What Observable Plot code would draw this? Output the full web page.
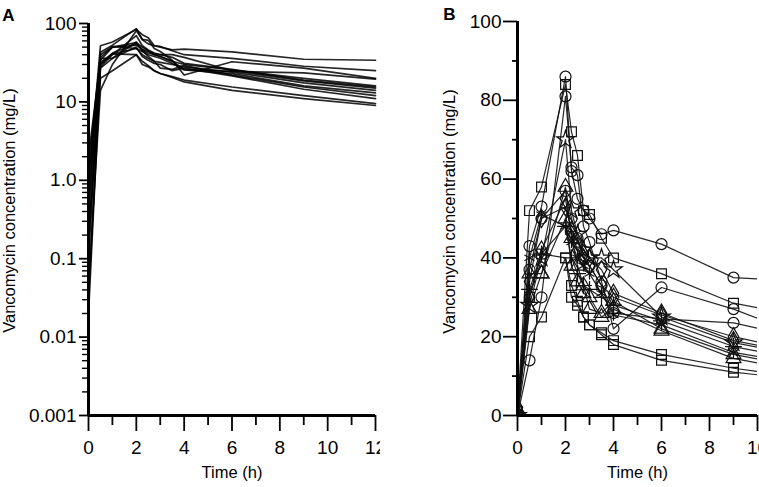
<!DOCTYPE html>
<html><head><meta charset="utf-8">
<script src="https://cdn.jsdelivr.net/npm/d3@7"></script>
<script src="https://cdn.jsdelivr.net/npm/@observablehq/plot@0.6"></script>
<style>
body{margin:0;background:#fff;}
#wrap{display:flex;width:759px;height:487px;overflow:hidden;}
#wrap svg{display:block;flex:none;}
</style></head><body><div id="wrap"></div>
<script>
// Sampling times (h)
const times = [0, 0.5, 1, 2, 2.25, 2.5, 2.75, 3, 3.5, 4, 6, 9, 12];
// Concentrations (mg/L) per subject
const s1  = [0.3, 43, 53, 86, 62, 55, 52, 50, 46, 47, 43.5, 35, 34];
const s2  = [1, 52, 58, 84, 72, 66, 52, 51, 45, 40, 36, 28.5, 25];
const s3  = [0.05, 14, 30, 81, 63, 61, 48, 44, 34, 22, 32.5, 27, 20];
const s4  = [0.1, 37, 50, 57, 50, 45, 40, 38, 33, 26, 24.5, 23.5, 19.5];
const s5  = [0.5, 30, 42, 55, 46, 42, 40, 38, 33, 30, 25.5, 20, 16];
const s6  = [0.03, 28, 40, 70, 52, 46, 42, 40, 40, 37, 25, 18.5, 15];
const s7  = [1.5, 36, 36, 58, 45, 38, 33, 27, 26, 29, 22, 15.5, 12];
const s8  = [0.2, 20, 25, 40, 33, 29, 25, 23, 20.5, 18, 14, 11, 9];
const s9  = [1, 30, 41, 40, 30, 28, 25, 23, 21, 19, 15.5, 12, 9.5];
const s10 = [0.15, 32, 41, 48, 40, 36, 33, 32, 30, 28, 24, 17.5, 14];
const s11 = [2, 34, 50, 53, 47, 44, 41, 40, 37, 31, 26, 19, 15.5];
const s12 = [0.02, 27, 36, 50, 38, 34, 31, 30, 25, 27, 21.5, 14.5, 11];
const s13 = [0.6, 40, 51, 48, 44, 40, 38, 36, 31, 25.5, 23, 16, 13];
const subjects = [s1, s2, s3, s4, s5, s6, s7, s8, s9, s10, s11, s12, s13];
const symbols = ["circle", "square", "circle", "circle", "diamond", "star", "triangle",
                 "square", "square", "plus", "diamond", "triangle", "asterisk"];

// Ticks
const xMajorA = [0, 2, 4, 6, 8, 10, 12];
const xMinorA = [1, 3, 5, 7, 9, 11];
const xMajorB = [0, 2, 4, 6, 8, 10];
const xMinorB = [1, 3, 5, 7, 9];
const yTicksA = [0.001, 0.01, 0.1, 1, 10, 100];
const yTickLabelsA = ["0.001", "0.01", "0.1", "1.0", "10", "100"];
const yTicksB = [0, 20, 40, 60, 80, 100];
const yMinorB = [10, 30, 50, 70, 90];
const xTitle = "Time (h)";
const yTitle = "Vancomycin concentration (mg/L)";

const rows = subjects.flatMap((vals, k) => vals.map((c, i) => ({id: k, t: times[i], c, sym: symbols[k]})));
const labelMapA = new Map(yTicksA.map((d, i) => [d, yTickLabelsA[i]]));
const yMinorA = yTicksA.slice(0, -1).flatMap(d => [2,3,4,5,6,7,8,9].map(m => +(m * d).toPrecision(3)));

const FONT = "Liberation Sans, Arial, Helvetica, sans-serif";
const TICKFS = 19, TITLEFS = 16.5;
const AXW = 3, TKW = 1.8;

const plotA = Plot.plot({
  width: 380, height: 487,
  marginLeft: 88, marginRight: 5, marginTop: 23, marginBottom: 72,
  style: {fontFamily: FONT, color: "#000", background: "#fff", overflow: "visible"},
  x: {domain: [0, 12], label: null},
  y: {type: "log", domain: [0.001, 100], label: null},
  marks: [
    Plot.line(rows, {x: "t", y: "c", z: "id", stroke: "#000", strokeWidth: 1.7, strokeOpacity: 0.85}),
    Plot.axisX(xMajorA, {tickSize: 16, tickPadding: 9, fontSize: TICKFS, strokeWidth: TKW, label: null}),
    Plot.axisX(xMinorA, {tickSize: 10, tickFormat: () => "", strokeWidth: TKW, label: null}),
    Plot.axisY(yTicksA, {tickSize: 9, tickPadding: 3, fontSize: TICKFS, strokeWidth: TKW, tickFormat: d => labelMapA.get(d), label: null}),
    Plot.axisY(yMinorA, {tickSize: 6, tickFormat: () => "", strokeWidth: 1.4, label: null}),
    Plot.ruleY([0.001], {strokeWidth: AXW, stroke: "#000"}),
    Plot.ruleX([0], {strokeWidth: AXW, stroke: "#000"}),
    Plot.text([xTitle], {frameAnchor: "bottom", dy: 62, fontSize: TITLEFS}),
    Plot.text([yTitle], {frameAnchor: "left", textAnchor: "middle", lineAnchor: "middle", rotate: -90, dx: -79, dy: -9, fontSize: TITLEFS}),
    Plot.text(["A"], {frameAnchor: "top-left", textAnchor: "middle", dx: -80, dy: -15, fontSize: 17, fontWeight: "bold"})
  ]
});

const dotMarks = subjects.map((vals, k) =>
  Plot.dot(rows.filter(r => r.id === k), {x: "t", y: "c", symbol: symbols[k], r: 5.5, fill: "none", stroke: "#111", strokeWidth: 1.2, clip: true})
);

const plotB = Plot.plot({
  width: 379, height: 487,
  marginLeft: 137, marginRight: 2, marginTop: 21, marginBottom: 72,
  style: {fontFamily: FONT, color: "#000", background: "#fff", overflow: "visible"},
  x: {domain: [0, 10], label: null},
  y: {domain: [0, 100], label: null},
  marks: [
    Plot.line(rows, {x: "t", y: "c", z: "id", stroke: "#111", strokeWidth: 1.2, strokeOpacity: 0.9, clip: true}),
    ...dotMarks,
    Plot.axisX(xMajorB, {tickSize: 16, tickPadding: 9, fontSize: TICKFS, strokeWidth: TKW, label: null}),
    Plot.axisX(xMinorB, {tickSize: 10, tickFormat: () => "", strokeWidth: TKW, label: null}),
    Plot.axisY(yTicksB, {tickSize: 14, tickPadding: 2, fontSize: TICKFS, strokeWidth: TKW, label: null}),
    Plot.axisY(yMinorB, {tickSize: 5, tickFormat: () => "", strokeWidth: TKW, label: null}),
    Plot.ruleY([0], {strokeWidth: AXW, stroke: "#000"}),
    Plot.ruleX([0], {strokeWidth: AXW, stroke: "#000"}),
    Plot.text([xTitle], {frameAnchor: "bottom", dy: 62, fontSize: TITLEFS}),
    Plot.text([yTitle], {frameAnchor: "left", textAnchor: "middle", lineAnchor: "middle", rotate: -90, dx: -68, dy: -7, fontSize: TITLEFS}),
    Plot.text(["B"], {frameAnchor: "top-left", textAnchor: "middle", dx: -68, dy: -14, fontSize: 17, fontWeight: "bold"})
  ]
});

document.getElementById("wrap").append(plotA, plotB);
</script></body></html>
